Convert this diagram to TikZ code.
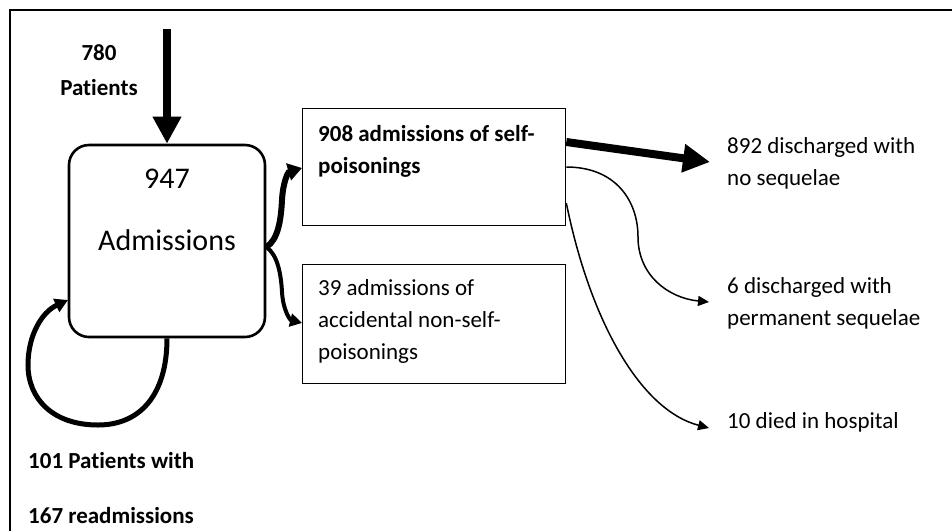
\documentclass[tikz,border=0pt]{standalone}
\usepackage{fontspec}
\setmainfont{Carlito}[RawFeature={-liga;-clig;-calt;-dlig}]
\usetikzlibrary{arrows.meta,calc}
\begin{document}
\begin{tikzpicture}[x=1pt,y=-1pt,
  txt/.style={font=\fontsize{23}{32}\selectfont, inner sep=0pt, anchor=base west, align=left},
  btxt/.style={txt, font=\fontsize{23}{32}\selectfont\bfseries},
  bigtxt/.style={font=\fontsize{30}{40}\selectfont, inner sep=0pt, anchor=base},
  admbox/.style={draw, line width=2.6pt, rounded corners=20pt, minimum width=196pt, minimum height=192pt, inner sep=0pt},
  plainbox/.style={draw, line width=1.3pt, minimum width=263pt, minimum height=117pt, inner sep=0pt},
  fatarrow/.style={line width=8pt, -{Triangle[length=27pt,width=27pt]}},
  thinarrow/.style={line width=1.5pt, -{Triangle[length=11pt,width=10pt]}}
]
\useasboundingbox (0,0) rectangle (952,531);
\draw[line width=1.5pt] (10,531) -- (10,10) -- (952,10);

% nodes
\node[admbox] (adm) at (167,241) {};
\node[bigtxt] (n947) at (167,188) {947};
\node[bigtxt] (nadm) at (167,250) {Admissions};
\node[btxt, anchor=base] (n780) at (99,60) {780};
\node[btxt, anchor=base] (npat) at (99,95) {Patients};
\node[btxt] (n101) at (28,468) {101 Patients with};
\node[btxt] (n167) at (28,523) {167 readmissions};

\node[plainbox, anchor=north west] (box1) at (302,108) {};
\node[plainbox, anchor=north west, minimum height=119pt] (box2) at (302,264) {};
% multi-line nodes: base anchor sits on the last line's baseline
\node[btxt] (t908) at (318,173) {908 admissions of self-\\poisonings};
\node[txt] (t39) at (318,359) {39 admissions of\\accidental non-self-\\poisonings};

\node[txt] (t892) at (727,185) {892 discharged with\\no sequelae};
\node[txt] (t6) at (727,325) {6 discharged with\\permanent sequelae};
\node[txt] (t10) at (727,428) {10 died in hospital};

% coordinates
\coordinate (src) at (167,29);
\coordinate (fork) at (adm.east |- 0,247);
\coordinate (b1in) at (box1.west |- 0,168);
\coordinate (b2in) at (box2.west |- 0,323);
\coordinate (o892) at (box1.east |- 0,142);
\coordinate (o6) at (box1.east |- 0,167);
\coordinate (o10) at (box1.east |- 0,203);
\coordinate (tip892) at (710,162);
\coordinate (tip6) at (709,302);
\coordinate (tip10) at (709,428);
\coordinate (loopstart) at (adm.south);
\coordinate (loopend) at (68,300);

% connectors
\draw[fatarrow] (src) -- (adm.north);
\draw[line width=5pt, -{Triangle[length=13pt,width=14pt]}]
  (loopstart) .. controls (167,395) and (140,425) .. (98,425)
  .. controls (52,425) and (28,398) .. (28,365)
  .. controls (28,335) and (42,312) .. (loopend);
\draw[line width=6pt, -{Triangle[length=14pt,width=17pt]}]
  (fork) .. controls (278,240) and (281,220) .. (282,200)
  .. controls (283,182) and (288,172) .. (b1in);
\draw[line width=4pt, -{Triangle[length=12pt,width=13pt]}]
  (fork) .. controls (278,255) and (281,275) .. (282,292)
  .. controls (283,310) and (290,320) .. (b2in);
\draw[fatarrow] (o892) -- (tip892);
\draw[thinarrow] (o6) .. controls (615,167) and (638,200) .. (638,237)
  .. controls (638,275) and (668,298) .. (tip6);
\draw[thinarrow] (o10) .. controls (590,320) and (640,410) .. (tip10);
\end{tikzpicture}
\end{document}
